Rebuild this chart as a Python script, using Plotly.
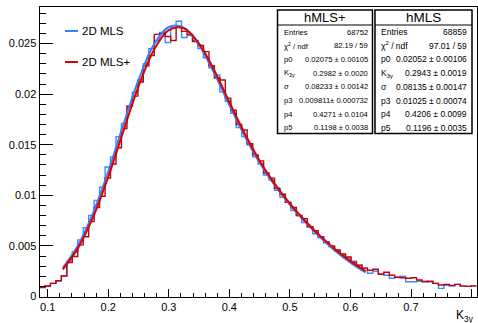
import plotly.graph_objects as go

# ---------------- data ----------------
x_min, x_max, n_bins = 0.0865, 0.8085, 80

hmls_plus = [0.00088, 0.00104, 0.0013, 0.00156, 0.00203, 0.00335, 0.00395, 0.0051, 0.0059, 0.0074,
             0.0088, 0.0099, 0.0117, 0.0131, 0.0147, 0.0166, 0.0188, 0.0198, 0.0212, 0.0228,
             0.0238, 0.0259, 0.0260, 0.0257, 0.0253, 0.0266, 0.0262, 0.0259, 0.0252, 0.0248,
             0.0242, 0.0228, 0.0216, 0.0214, 0.0196, 0.0184, 0.0170, 0.01645, 0.0151, 0.0140,
             0.0134, 0.0122, 0.0117, 0.0107, 0.0101, 0.0093, 0.0088, 0.0080, 0.0077, 0.0069,
             0.0065, 0.0059, 0.0054, 0.0050, 0.0046, 0.0042, 0.0039, 0.0034, 0.0031, 0.0028,
             0.0026, 0.0027, 0.0022, 0.0024, 0.0021, 0.0019, 0.00186, 0.0018, 0.00186, 0.00163,
             0.00146, 0.0015, 0.0013, 0.00114, 0.0012, 0.0011, 0.0012, 0.00103, 0.0010, 0.00105]

hmls = [0.0009, 0.00104, 0.0013, 0.00156, 0.00205, 0.0035, 0.0044, 0.0056, 0.0068, 0.0080,
        0.0095, 0.0108, 0.0128, 0.0138, 0.0158, 0.0171, 0.0188, 0.0202, 0.0214, 0.0230,
        0.0245, 0.0253, 0.0261, 0.0251, 0.0266, 0.0272, 0.0256, 0.0258, 0.0253, 0.0245,
        0.0236, 0.0226, 0.0219, 0.0202, 0.0193, 0.0181, 0.0167, 0.0158, 0.0150, 0.0138,
        0.0131, 0.0120, 0.0115, 0.0105, 0.0098, 0.0093, 0.0085, 0.0080, 0.0073, 0.0069,
        0.0062, 0.0058, 0.0053, 0.0049, 0.0045, 0.0041, 0.0038, 0.0035, 0.0031, 0.0028,
        0.0023, 0.0025, 0.0022, 0.0021, 0.0018, 0.0019, 0.0020, 0.00146, 0.00146, 0.0015,
        0.0015, 0.00146, 0.0013, 0.0008, 0.0011, 0.00103, 0.0012, 0.00103, 0.0010, 0.00105]

fit_x = [0.125, 0.15, 0.175, 0.2, 0.225, 0.25, 0.275, 0.3, 0.325, 0.35, 0.375,
         0.4, 0.425, 0.45, 0.475, 0.5, 0.525, 0.55, 0.575, 0.6, 0.625]
fit_hmls_plus = [0.00268, 0.00478, 0.00784, 0.01181, 0.01634, 0.02077, 0.02432, 0.02633, 0.02650, 0.02500, 0.02236,
                 0.01922, 0.01615, 0.01342, 0.01113, 0.00918, 0.00749, 0.00599, 0.00465, 0.00349, 0.00251]
fit_hmls = [0.00284, 0.00505, 0.00825, 0.01235, 0.01697, 0.02140, 0.02484, 0.02663, 0.02656, 0.02484, 0.02208,
            0.01892, 0.01589, 0.01323, 0.01098, 0.00906, 0.00737, 0.00586, 0.00451, 0.00335, 0.00238]

x_tick_vals = [0.1, 0.2, 0.3, 0.4, 0.5, 0.6, 0.7, 0.8]
x_tick_text = ["0.1", "0.2", "0.3", "0.4", "0.5", "0.6", "0.7", "0.8"]
y_tick_vals = [0, 0.005, 0.01, 0.015, 0.02, 0.025]
y_tick_text = ["0", "0.005", "0.01", "0.015", "0.02", "0.025"]

legend_names = ["2D MLS", "2D MLS+"]
stat_labels = ["Entries", "χ<sup>2</sup> / ndf", "p0", "K<sub>3γ</sub>", "σ", "p3", "p4", "p5"]
stats_plus = ["68752", "82.19 / 59", "0.02075 ± 0.00105", "0.2982 ± 0.0020", "0.08233 ± 0.00142",
              "0.009811± 0.000732", "0.4271 ± 0.0104", "0.1198 ± 0.0038"]
stats_mls = ["68859", "97.01 / 59", "0.02052 ± 0.00106", "0.2943 ± 0.0019", "0.08135 ± 0.00147",
             "0.01025 ± 0.00074", "0.4206 ± 0.0099", "0.1196 ± 0.0035"]

# ---------------- figure ----------------
W, H = 478, 323
BLUE_H, BLUE_F = "#3a8cff", "#2b84ff"
RED_H, RED_F = "#c80000", "#dd0000"

bw = (x_max - x_min) / n_bins
edges = [x_min + bw * i for i in range(n_bins + 1)]

fig = go.Figure()

def stairs(vals, color, width):
    fig.add_trace(go.Scatter(x=edges, y=list(vals) + [vals[-1]], mode="lines",
                             line=dict(color=color, width=width, shape="hv"),
                             showlegend=False, hoverinfo="skip"))

stairs(hmls, BLUE_H, 1.4)
stairs(hmls_plus, RED_H, 1.4)
fig.add_trace(go.Scatter(x=fit_x, y=fit_hmls, mode="lines",
                         line=dict(color=BLUE_F, width=2, shape="spline"), showlegend=False))
fig.add_trace(go.Scatter(x=fit_x, y=fit_hmls_plus, mode="lines",
                         line=dict(color=RED_F, width=2, shape="spline"), showlegend=False))

L, R, T, B = 39.5, 476.7, 7.3, 296.5
FONT = "Liberation Sans, Arial, Helvetica, sans-serif"
fig.update_layout(width=W, height=H, margin=dict(l=0, r=0, t=0, b=0),
                  plot_bgcolor="white", paper_bgcolor="white",
                  font=dict(family=FONT, color="black"))
fig.update_xaxes(domain=[L / W, R / W], range=[x_min, x_max], showline=True, mirror=True, automargin=False,
                 linecolor="black", linewidth=1, ticks="inside", ticklen=8, tickcolor="black",
                 tickvals=x_tick_vals, ticktext=x_tick_text, showgrid=False, zeroline=False,
                 tickfont=dict(size=11),
                 minor=dict(ticks="inside", ticklen=4, dtick=0.02, tick0=0.0, tickcolor="black"))
fig.update_yaxes(domain=[1 - B / H, 1 - T / H], range=[0, 0.02858], showline=True, mirror=True, automargin=False,
                 linecolor="black", linewidth=1, ticks="inside", ticklen=13, tickcolor="black",
                 tickvals=y_tick_vals, ticktext=y_tick_text, showgrid=False, zeroline=False,
                 tickfont=dict(size=11),
                 minor=dict(ticks="inside", ticklen=6.5, dtick=0.001, tick0=0, tickcolor="black"))

def px(x):
    return x / W

def py(y):
    return 1 - y / H

shapes = []
annots = []

# legend
for name, col, yy in [(legend_names[0], BLUE_F, 31), (legend_names[1], RED_F, 62)]:
    shapes.append(dict(type="line", xref="paper", yref="paper", x0=px(65), x1=px(78), y0=py(yy), y1=py(yy),
                       line=dict(color=col, width=2)))
    annots.append(dict(xref="paper", yref="paper", x=px(80), y=py(yy), text=name, showarrow=False,
                       xanchor="left", yanchor="middle", font=dict(size=11.5)))

# stats boxes
def stats_box(xl, xr, title, values, fs, tfs):
    shapes.append(dict(type="rect", xref="paper", yref="paper", x0=px(xl), x1=px(xr), y0=py(133.5), y1=py(10),
                       line=dict(color="black", width=1.5), fillcolor="white", layer="above"))
    shapes.append(dict(type="line", xref="paper", yref="paper", x0=px(xl), x1=px(xr), y0=py(25), y1=py(25),
                       line=dict(color="black", width=1), layer="above"))
    annots.append(dict(xref="paper", yref="paper", x=px((xl + xr) / 2), y=py(17.5), text=title, showarrow=False,
                       xanchor="center", yanchor="middle", font=dict(size=tfs)))
    for i, (lab, val) in enumerate(zip(stat_labels, values)):
        yy = 32 + 13.7 * i
        annots.append(dict(xref="paper", yref="paper", x=px(xl + 4), y=py(yy), text=lab, showarrow=False,
                           xanchor="left", yanchor="middle", font=dict(size=fs)))
        annots.append(dict(xref="paper", yref="paper", x=px(xr - 3), y=py(yy), text=val, showarrow=False,
                           xanchor="right", yanchor="middle", font=dict(size=fs)))

stats_box(277.5, 372.5, "hMLS+", stats_plus, 7.6, 13)
stats_box(375, 472, "hMLS", stats_mls, 8.5, 13.5)

# axis title
annots.append(dict(xref="paper", yref="paper", x=px(476), y=py(316), text="K<sub>3γ</sub>", showarrow=False,
                   xanchor="right", yanchor="middle", font=dict(size=12)))

fig.update_layout(shapes=shapes, annotations=annots)
fig.write_html("out.html")
